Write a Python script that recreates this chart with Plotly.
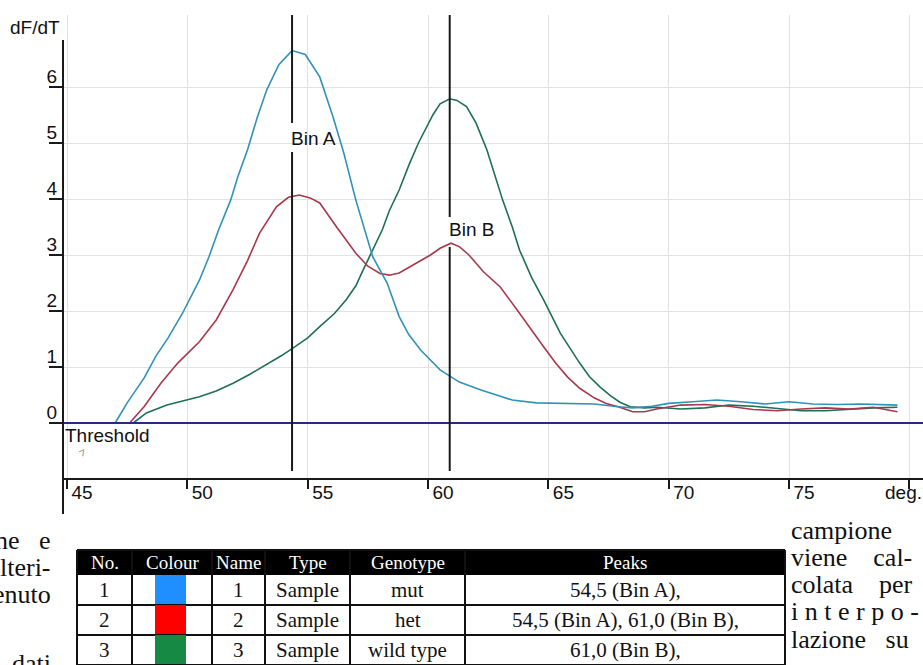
import plotly.graph_objects as go

# ---------------- data ----------------
blue_T = [47.0, 47.5, 48.2, 48.7, 49.2, 49.8, 50.5, 50.9, 51.3, 51.8, 52.1, 52.5, 52.9, 53.3, 53.8,
          54.35, 54.9, 55.5, 56.05, 56.5, 57.0, 57.4, 57.7, 58.3, 58.8, 59.2, 59.7, 60.5, 61.3,
          62.2, 63.5, 64.5, 65.5, 66.9, 67.9, 68.5, 69.3, 70.0, 71.0, 72.0, 73.0, 74.0, 75.0,
          76.0, 77.0, 78.0, 79.5]
blue_v = [0.0, 0.36, 0.80, 1.20, 1.52, 1.96, 2.55, 2.97, 3.45, 3.98, 4.40, 4.88, 5.45, 5.95, 6.40,
          6.65, 6.58, 6.18, 5.47, 4.82, 3.98, 3.40, 2.97, 2.50, 1.90, 1.58, 1.30, 0.95, 0.73,
          0.59, 0.41, 0.36, 0.35, 0.34, 0.29, 0.27, 0.30, 0.35, 0.38, 0.41, 0.38, 0.34, 0.38,
          0.34, 0.33, 0.34, 0.32]

red_T = [47.6, 48.2, 48.9, 49.6, 50.5, 51.2, 51.9, 52.5, 53.0, 53.7, 54.2, 54.65, 55.1, 55.5, 56.2,
         57.0, 57.5, 58.0, 58.4, 58.8, 59.25, 59.7, 60.1, 60.5, 60.95, 61.3, 61.7, 62.3, 63.0,
         63.8, 64.3, 64.8, 65.3, 65.8, 66.3, 66.9, 67.4, 67.9, 68.5, 69.0, 69.5, 70.5, 71.5,
         72.5, 73.5, 74.5, 75.5, 76.5, 77.5, 78.5, 79.5]
red_v = [0.0, 0.29, 0.71, 1.07, 1.45, 1.84, 2.38, 2.90, 3.39, 3.86, 4.03, 4.07, 4.02, 3.93, 3.50,
         3.03, 2.80, 2.67, 2.64, 2.68, 2.79, 2.90, 3.00, 3.12, 3.21, 3.15, 3.00, 2.70, 2.43,
         1.96, 1.65, 1.36, 1.07, 0.82, 0.62, 0.45, 0.35, 0.29, 0.20, 0.20, 0.25, 0.32, 0.33,
         0.30, 0.24, 0.22, 0.25, 0.27, 0.25, 0.28, 0.20]

green_T = [47.75, 48.3, 49.15, 50.5, 51.2, 51.9, 52.6, 53.3, 53.9, 54.4, 55.0, 55.5, 56.1, 56.6,
           57.0, 57.3, 57.7, 58.1, 58.4, 58.8, 59.2, 59.6, 60.2, 60.5, 60.9, 61.2, 61.6, 62.0,
           62.45, 62.8, 63.1, 63.5, 63.8, 64.3, 64.8, 65.5, 66.3, 66.7, 67.15, 67.6, 67.97, 68.4,
           69.0, 69.5, 70.5, 71.5, 72.5, 73.5, 74.5, 75.5, 76.5, 77.5, 78.5, 79.5]
green_v = [0.0, 0.18, 0.32, 0.47, 0.57, 0.71, 0.87, 1.04, 1.20, 1.34, 1.52, 1.72, 1.95, 2.20,
           2.45, 2.73, 3.09, 3.45, 3.80, 4.16, 4.60, 5.00, 5.50, 5.70, 5.79, 5.76, 5.65, 5.35,
           4.87, 4.40, 3.98, 3.50, 3.09, 2.60, 2.20, 1.60, 1.07, 0.83, 0.64, 0.48, 0.37, 0.29,
           0.27, 0.28, 0.25, 0.27, 0.32, 0.30, 0.26, 0.22, 0.22, 0.25, 0.27, 0.28]

threshold = 0.0
bin_names = ["Bin A", "Bin B"]
bin_temps = [54.35, 60.9]

x_tick_vals = [45, 50, 55, 60, 65, 70, 75, 80]
x_tick_text = ["45", "50", "55", "60", "65", "70", "75", ""]
y_tick_vals = [0, 1, 2, 3, 4, 5, 6]
y_tick_text = ["0", "1", "2", "3", "4", "5", "6"]

# table
tbl_headers = ["No.", "Colour", "Name", "Type", "Genotype", "Peaks"]
tbl_no = ["1", "2", "3"]
tbl_colour = ["#1f8fff", "#ff0000", "#168a45"]
tbl_name = ["1", "2", "3"]
tbl_type = ["Sample", "Sample", "Sample"]
tbl_genotype = ["mut", "het", "wild type"]
tbl_peaks = ["54,5 (Bin A),", "54,5 (Bin A), 61,0 (Bin B),", "61,0 (Bin B),"]

left_text = ["ne&nbsp;&nbsp;&nbsp;e", "lteri-", "enuto", "dati"]
right_text = ["campione", "viene&nbsp;&nbsp;&nbsp;&nbsp;cal-", "colata&nbsp;&nbsp;&nbsp;&nbsp;per",
              "<span style='letter-spacing:6.5px'>interpo-</span>", "lazione&nbsp;&nbsp;&nbsp;su"]

# ---------------- geometry ----------------
W, H = 923, 665
L, T, R, B = 63, 15, 0, 187
PW, PH = W - L - R, H - T - B
XPX = 24.07   # px per degree
YPX = 56.0    # px per unit
x_lo = 45 - (67 - L) / XPX
x_hi = x_lo + PW / XPX
y_lo = -(H - B - 423) / YPX
y_hi = (423 - T) / YPX


def pxx(x):
    return (x - L) / PW


def pxy(y):
    return (H - B - y) / PH


def dy(ypix):
    return (423 - ypix) / YPX


blue_c = "#3192b8"
red_c = "#a8384a"
green_c = "#1f6f58"
axis_c = "#1a1a1a"
sans = "Liberation Sans"
serif = "Liberation Serif"

fig = go.Figure()
for xs, ys, c in [(green_T, green_v, green_c), (red_T, red_v, red_c), (blue_T, blue_v, blue_c)]:
    fig.add_trace(go.Scatter(x=xs, y=ys, mode="lines", line=dict(color=c, width=1.6),
                             showlegend=False, hoverinfo="skip"))

shapes = []
# threshold
shapes.append(dict(type="line", xref="paper", x0=0, x1=1, yref="y", y0=threshold, y1=threshold,
                   line=dict(color="#2b2b7c", width=2), layer="above"))
# bin lines with gaps for labels
gaps = [(dy(123), dy(152)), (dy(217), dy(247))]
label_y = [dy(138), dy(229)]
annotations = []
for name, t, (g_top, g_bot), ly in zip(bin_names, bin_temps, gaps, label_y):
    shapes.append(dict(type="line", xref="x", x0=t, x1=t, yref="y", y0=g_top, y1=y_hi,
                       line=dict(color=axis_c, width=2), layer="above"))
    shapes.append(dict(type="line", xref="x", x0=t, x1=t, yref="y", y0=dy(471), y1=g_bot,
                       line=dict(color=axis_c, width=2), layer="above"))
    annotations.append(dict(x=t, y=ly, xref="x", yref="y", text=name, showarrow=False,
                            xanchor="left", yanchor="middle", xshift=-3,
                            font=dict(family=sans, size=19, color="#111")))

# y axis line extended
shapes.append(dict(type="line", xref="paper", x0=0, x1=0, yref="paper", y0=pxy(514), y1=pxy(40),
                   line=dict(color=axis_c, width=2), layer="above"))

annotations.append(dict(x=pxx(62), y=pxy(27), xref="paper", yref="paper", text="dF/dT",
                        showarrow=False, xanchor="right", yanchor="middle",
                        font=dict(family=sans, size=19, color="#111")))
annotations.append(dict(x=pxx(63), y=pxy(435), xref="paper", yref="paper", text="Threshold",
                        showarrow=False, xanchor="left", yanchor="middle",
                        font=dict(family=sans, size=19, color="#111")))
annotations.append(dict(x=pxx(82), y=pxy(452), xref="paper", yref="paper", text="⁊",
                        showarrow=False, xanchor="center", yanchor="middle", textangle=-25,
                        font=dict(family=sans, size=11, color="#888")))
annotations.append(dict(x=pxx(883), y=pxy(492), xref="paper", yref="paper", text="deg.°C",
                        showarrow=False, xanchor="left", yanchor="middle",
                        font=dict(family=sans, size=19, color="#111")))

# ---------------- table ----------------
col_x = [77, 132, 212, 265, 350, 465, 785]
hdr_top, hdr_bot = 550, 575
row_h = 30
n_rows = len(tbl_no)
tbl_bottom = hdr_bot + row_h * n_rows
shapes.append(dict(type="rect", xref="paper", yref="paper", x0=pxx(col_x[0]), x1=pxx(col_x[-1]),
                   y0=pxy(hdr_bot), y1=pxy(hdr_top), fillcolor="#000", line=dict(width=0)))
for i in range(n_rows):
    top = hdr_bot + row_h * i
    shapes.append(dict(type="rect", xref="paper", yref="paper", x0=pxx(155), x1=pxx(186),
                       y0=pxy(top + row_h), y1=pxy(top), fillcolor=tbl_colour[i], line=dict(width=0)))
    shapes.append(dict(type="line", xref="paper", yref="paper", x0=pxx(col_x[0]), x1=pxx(col_x[-1]),
                       y0=pxy(top + row_h), y1=pxy(top + row_h), line=dict(color="#111", width=2)))
for cx in col_x:
    shapes.append(dict(type="line", xref="paper", yref="paper", x0=pxx(cx), x1=pxx(cx),
                       y0=pxy(tbl_bottom), y1=pxy(hdr_top), line=dict(color="#111", width=2)))
shapes.append(dict(type="line", xref="paper", yref="paper", x0=pxx(col_x[0]), x1=pxx(col_x[-1]),
                   y0=pxy(hdr_top), y1=pxy(hdr_top), line=dict(color="#111", width=2)))

for j, h in enumerate(tbl_headers):
    cx = (col_x[j] + col_x[j + 1]) / 2
    annotations.append(dict(x=pxx(cx), y=pxy((hdr_top + hdr_bot) / 2), xref="paper", yref="paper",
                            text=h, showarrow=False, xanchor="center", yanchor="middle",
                            font=dict(family=serif, size=19, color="#fff")))
row_cols = [tbl_no, None, tbl_name, tbl_type, tbl_genotype, tbl_peaks]
for i in range(n_rows):
    cy = hdr_bot + row_h * i + row_h / 2
    for j, col in enumerate(row_cols):
        if col is None:
            continue
        cx = (col_x[j] + col_x[j + 1]) / 2
        annotations.append(dict(x=pxx(cx), y=pxy(cy), xref="paper", yref="paper",
                                text=col[i], showarrow=False, xanchor="center", yanchor="middle",
                                font=dict(family=serif, size=21, color="#111")))

# ---------------- body text fragments ----------------
left_y = [540, 567, 594, 663]
for txt, yy in zip(left_text, left_y):
    annotations.append(dict(x=pxx(53), y=pxy(yy), xref="paper", yref="paper", text=txt,
                            showarrow=False, xanchor="right", yanchor="middle",
                            font=dict(family=serif, size=26, color="#111")))
right_y = [530, 557, 584, 611, 639]
for txt, yy in zip(right_text, right_y):
    annotations.append(dict(x=pxx(789), y=pxy(yy), xref="paper", yref="paper", text=txt,
                            showarrow=False, xanchor="left", yanchor="middle",
                            font=dict(family=serif, size=26, color="#111")))

fig.update_layout(
    width=W, height=H,
    margin=dict(l=L, r=R, t=T, b=B, pad=0),
    paper_bgcolor="white", plot_bgcolor="white",
    showlegend=False,
    shapes=shapes, annotations=annotations,
    xaxis=dict(range=[x_lo, x_hi], tickmode="array", tickvals=x_tick_vals, ticktext=x_tick_text,
               ticks="outside", ticklen=9, tickwidth=1.5, tickcolor=axis_c,
               showline=True, linecolor=axis_c, linewidth=2,
               showgrid=True, gridcolor="#e2e2e2", gridwidth=1, zeroline=False,
               tickfont=dict(family=sans, size=19, color="#111"),
               ticklabelshift=15, ticklabelstandoff=-13),
    yaxis=dict(range=[y_lo, y_hi], tickmode="array", tickvals=y_tick_vals, ticktext=y_tick_text,
               ticks="outside", ticklen=13, tickwidth=2, tickcolor=axis_c,
               showline=False, showgrid=True, gridcolor="#e2e2e2", gridwidth=1, zeroline=False,
               tickfont=dict(family=sans, size=19, color="#111"),
               ticklabelshift=-11, ticklabelstandoff=-12),
)

fig.write_html("out.html", config={"displayModeBar": False},
               post_script="document.body.style.margin='0px';document.body.style.overflow='hidden';")
